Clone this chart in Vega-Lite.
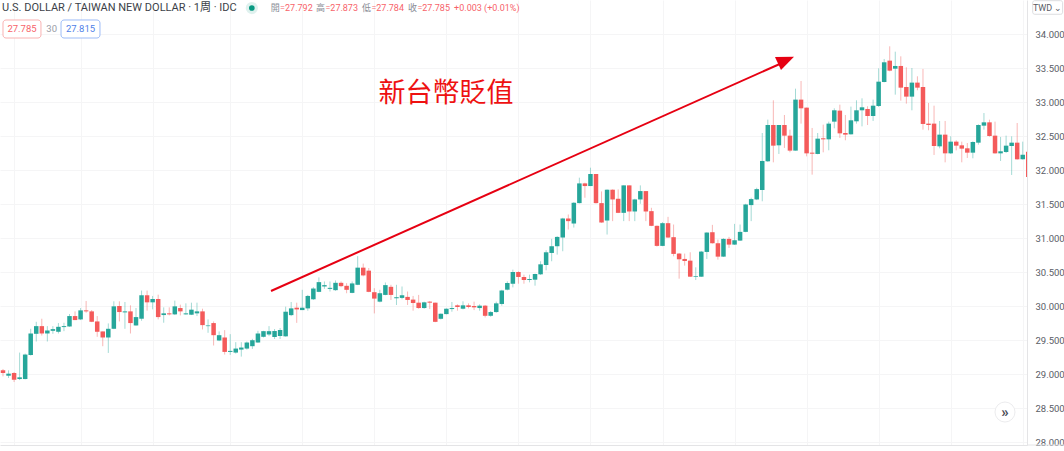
{
  "$schema": "https://vega.github.io/schema/vega-lite/v5.json",
  "autosize": {"type": "none"},
  "padding": {"left": 0, "top": 0, "right": 37, "bottom": 6},
  "width": 1027,
  "height": 445,
  "background": "#ffffff",
  "config": {
    "view": {"stroke": null},
    "font": "Roboto",
    "text": {"font": "Roboto, Noto Sans CJK TC"}
  },
  "datasets": {
    "candles": [
      {"week":0,"open":29.054,"close":29.015,"high":29.074,"low":28.965},
      {"week":1,"open":28.975,"close":29.005,"high":29.054,"low":28.941},
      {"week":2,"open":29.015,"close":28.916,"high":29.029,"low":28.882},
      {"week":3,"open":28.926,"close":28.951,"high":29.315,"low":28.911},
      {"week":4,"open":28.926,"close":29.286,"high":29.3,"low":28.921},
      {"week":5,"open":29.281,"close":29.596,"high":29.665,"low":29.271},
      {"week":6,"open":29.591,"close":29.704,"high":29.768,"low":29.478},
      {"week":7,"open":29.704,"close":29.596,"high":29.813,"low":29.566},
      {"week":8,"open":29.596,"close":29.64,"high":29.704,"low":29.478},
      {"week":9,"open":29.635,"close":29.66,"high":29.704,"low":29.591},
      {"week":10,"open":29.621,"close":29.694,"high":29.749,"low":29.596},
      {"week":11,"open":29.69,"close":29.704,"high":29.754,"low":29.63},
      {"week":12,"open":29.699,"close":29.852,"high":29.882,"low":29.694},
      {"week":13,"open":29.852,"close":29.793,"high":29.921,"low":29.793},
      {"week":14,"open":29.803,"close":29.936,"high":29.97,"low":29.793},
      {"week":15,"open":29.936,"close":29.921,"high":30.074,"low":29.901},
      {"week":16,"open":29.921,"close":29.768,"high":29.941,"low":29.763},
      {"week":17,"open":29.773,"close":29.621,"high":29.852,"low":29.547},
      {"week":18,"open":29.626,"close":29.537,"high":29.626,"low":29.409},
      {"week":19,"open":29.537,"close":29.665,"high":29.744,"low":29.31},
      {"week":20,"open":29.665,"close":29.995,"high":30.069,"low":29.66},
      {"week":21,"open":30.0,"close":29.911,"high":30.069,"low":29.773},
      {"week":22,"open":29.906,"close":29.921,"high":30.059,"low":29.665},
      {"week":23,"open":29.921,"close":29.749,"high":30.01,"low":29.596},
      {"week":24,"open":29.714,"close":29.837,"high":29.97,"low":29.709},
      {"week":25,"open":29.813,"close":30.158,"high":30.227,"low":29.783},
      {"week":26,"open":30.158,"close":30.054,"high":30.227,"low":29.931},
      {"week":27,"open":30.054,"close":30.103,"high":30.148,"low":29.951},
      {"week":28,"open":30.103,"close":29.837,"high":30.167,"low":29.803},
      {"week":29,"open":29.867,"close":29.892,"high":29.98,"low":29.754},
      {"week":30,"open":29.892,"close":29.877,"high":29.98,"low":29.862},
      {"week":31,"open":29.877,"close":29.995,"high":30.079,"low":29.867},
      {"week":32,"open":29.97,"close":29.921,"high":30.02,"low":29.862},
      {"week":33,"open":29.877,"close":29.892,"high":30.039,"low":29.872},
      {"week":34,"open":29.872,"close":29.946,"high":30.049,"low":29.867},
      {"week":35,"open":29.892,"close":29.921,"high":30.049,"low":29.852},
      {"week":36,"open":29.921,"close":29.719,"high":29.96,"low":29.655},
      {"week":37,"open":29.704,"close":29.714,"high":29.803,"low":29.606},
      {"week":38,"open":29.749,"close":29.571,"high":29.773,"low":29.419},
      {"week":39,"open":29.493,"close":29.571,"high":29.626,"low":29.483},
      {"week":40,"open":29.537,"close":29.325,"high":29.645,"low":29.286},
      {"week":41,"open":29.325,"close":29.34,"high":29.586,"low":29.281},
      {"week":42,"open":29.315,"close":29.374,"high":29.468,"low":29.3},
      {"week":43,"open":29.359,"close":29.389,"high":29.468,"low":29.256},
      {"week":44,"open":29.374,"close":29.463,"high":29.478,"low":29.359},
      {"week":45,"open":29.409,"close":29.497,"high":29.517,"low":29.369},
      {"week":46,"open":29.463,"close":29.596,"high":29.635,"low":29.458},
      {"week":47,"open":29.547,"close":29.63,"high":29.635,"low":29.537},
      {"week":48,"open":29.581,"close":29.63,"high":29.704,"low":29.557},
      {"week":49,"open":29.544,"close":29.632,"high":29.662,"low":29.515},
      {"week":50,"open":29.559,"close":29.647,"high":29.676,"low":29.515},
      {"week":51,"open":29.554,"close":29.916,"high":29.99,"low":29.549},
      {"week":52,"open":29.866,"close":29.965,"high":30.059,"low":29.851},
      {"week":53,"open":29.975,"close":29.95,"high":30.049,"low":29.752},
      {"week":54,"open":29.94,"close":29.975,"high":30.238,"low":29.94},
      {"week":55,"open":29.965,"close":30.148,"high":30.163,"low":29.931},
      {"week":56,"open":30.099,"close":30.257,"high":30.277,"low":30.089},
      {"week":57,"open":30.208,"close":30.351,"high":30.421,"low":30.203},
      {"week":58,"open":30.287,"close":30.307,"high":30.361,"low":30.252},
      {"week":59,"open":30.252,"close":30.267,"high":30.361,"low":30.213},
      {"week":60,"open":30.233,"close":30.341,"high":30.376,"low":30.223},
      {"week":61,"open":30.341,"close":30.292,"high":30.361,"low":30.277},
      {"week":62,"open":30.297,"close":30.238,"high":30.336,"low":30.188},
      {"week":63,"open":30.193,"close":30.332,"high":30.361,"low":30.188},
      {"week":64,"open":30.312,"close":30.564,"high":30.733,"low":30.307},
      {"week":65,"open":30.564,"close":30.45,"high":30.624,"low":30.436},
      {"week":66,"open":30.52,"close":30.208,"high":30.559,"low":30.203},
      {"week":67,"open":30.203,"close":30.109,"high":30.262,"low":29.891},
      {"week":68,"open":30.064,"close":30.188,"high":30.238,"low":30.054},
      {"week":69,"open":30.163,"close":30.307,"high":30.346,"low":30.158},
      {"week":70,"open":30.282,"close":30.163,"high":30.312,"low":30.089},
      {"week":71,"open":30.114,"close":30.129,"high":30.312,"low":30.015},
      {"week":72,"open":30.119,"close":30.158,"high":30.287,"low":30.099},
      {"week":73,"open":30.134,"close":30.089,"high":30.213,"low":30.015},
      {"week":74,"open":30.094,"close":30.044,"high":30.148,"low":29.931},
      {"week":75,"open":30.049,"close":29.97,"high":30.163,"low":29.96},
      {"week":76,"open":29.97,"close":30.054,"high":30.064,"low":29.96},
      {"week":77,"open":30.064,"close":30.049,"high":30.074,"low":29.955},
      {"week":78,"open":30.049,"close":29.767,"high":30.049,"low":29.762},
      {"week":79,"open":29.812,"close":29.886,"high":29.891,"low":29.802},
      {"week":80,"open":29.881,"close":29.96,"high":29.965,"low":29.876},
      {"week":81,"open":29.955,"close":29.97,"high":30.059,"low":29.916},
      {"week":82,"open":30.01,"close":29.985,"high":30.025,"low":29.931},
      {"week":83,"open":29.96,"close":30.01,"high":30.069,"low":29.95},
      {"week":84,"open":30.01,"close":29.985,"high":30.039,"low":29.965},
      {"week":85,"open":30.0,"close":29.98,"high":30.064,"low":29.94},
      {"week":86,"open":29.97,"close":30.005,"high":30.025,"low":29.931},
      {"week":87,"open":30.005,"close":29.856,"high":30.015,"low":29.832},
      {"week":88,"open":29.856,"close":29.911,"high":29.926,"low":29.841},
      {"week":89,"open":29.911,"close":30.039,"high":30.064,"low":29.901},
      {"week":90,"open":30.03,"close":30.228,"high":30.238,"low":30.005},
      {"week":91,"open":30.24,"close":30.338,"high":30.363,"low":30.23},
      {"week":92,"open":30.328,"close":30.5,"high":30.535,"low":30.274},
      {"week":93,"open":30.5,"close":30.427,"high":30.51,"low":30.328},
      {"week":94,"open":30.427,"close":30.382,"high":30.461,"low":30.328},
      {"week":95,"open":30.382,"close":30.397,"high":30.461,"low":30.348},
      {"week":96,"open":30.387,"close":30.471,"high":30.476,"low":30.299},
      {"week":97,"open":30.466,"close":30.613,"high":30.658,"low":30.456},
      {"week":98,"open":30.603,"close":30.79,"high":30.82,"low":30.525},
      {"week":99,"open":30.78,"close":30.879,"high":30.987,"low":30.658},
      {"week":100,"open":30.879,"close":31.016,"high":31.026,"low":30.756},
      {"week":101,"open":31.007,"close":31.287,"high":31.297,"low":30.805},
      {"week":102,"open":31.287,"close":31.248,"high":31.346,"low":31.125},
      {"week":103,"open":31.213,"close":31.518,"high":31.528,"low":31.154},
      {"week":104,"open":31.513,"close":31.803,"high":31.887,"low":31.508},
      {"week":105,"open":31.803,"close":31.764,"high":31.813,"low":31.592},
      {"week":106,"open":31.764,"close":31.941,"high":32.034,"low":31.764},
      {"week":107,"open":31.941,"close":31.513,"high":31.941,"low":31.508},
      {"week":108,"open":31.513,"close":31.228,"high":31.685,"low":31.223},
      {"week":109,"open":31.257,"close":31.71,"high":31.715,"low":31.051},
      {"week":110,"open":31.71,"close":31.567,"high":31.715,"low":31.248},
      {"week":111,"open":31.577,"close":31.37,"high":31.715,"low":31.366},
      {"week":112,"open":31.37,"close":31.774,"high":31.774,"low":31.248},
      {"week":113,"open":31.774,"close":31.39,"high":31.774,"low":31.248},
      {"week":114,"open":31.39,"close":31.567,"high":31.577,"low":31.248},
      {"week":115,"open":31.567,"close":31.69,"high":31.774,"low":31.503},
      {"week":116,"open":31.69,"close":31.39,"high":31.69,"low":31.248},
      {"week":117,"open":31.395,"close":31.179,"high":31.444,"low":31.174},
      {"week":118,"open":31.179,"close":30.884,"high":31.184,"low":30.874},
      {"week":119,"open":30.884,"close":31.218,"high":31.233,"low":30.879},
      {"week":120,"open":31.218,"close":31.007,"high":31.311,"low":31.002},
      {"week":121,"open":31.012,"close":30.766,"high":31.198,"low":30.731},
      {"week":122,"open":30.771,"close":30.687,"high":30.78,"low":30.402},
      {"week":123,"open":30.692,"close":30.662,"high":30.771,"low":30.594},
      {"week":124,"open":30.667,"close":30.431,"high":30.79,"low":30.427},
      {"week":125,"open":30.431,"close":30.441,"high":30.569,"low":30.382},
      {"week":126,"open":30.431,"close":30.8,"high":30.81,"low":30.427},
      {"week":127,"open":30.795,"close":31.08,"high":31.085,"low":30.692},
      {"week":128,"open":31.085,"close":30.923,"high":31.193,"low":30.918},
      {"week":129,"open":30.923,"close":30.726,"high":30.977,"low":30.682},
      {"week":130,"open":30.726,"close":30.987,"high":30.997,"low":30.722},
      {"week":131,"open":30.987,"close":30.903,"high":31.016,"low":30.854},
      {"week":132,"open":30.903,"close":30.967,"high":31.208,"low":30.898},
      {"week":133,"open":30.962,"close":31.09,"high":31.198,"low":30.957},
      {"week":134,"open":31.09,"close":31.493,"high":31.503,"low":31.085},
      {"week":135,"open":31.484,"close":31.572,"high":31.592,"low":31.248},
      {"week":136,"open":31.567,"close":31.719,"high":31.739,"low":31.557},
      {"week":137,"open":31.706,"close":32.133,"high":32.544,"low":31.54},
      {"week":138,"open":32.128,"close":32.662,"high":32.741,"low":32.118},
      {"week":139,"open":32.662,"close":32.358,"high":33.025,"low":32.113},
      {"week":140,"open":32.363,"close":32.662,"high":32.662,"low":32.236},
      {"week":141,"open":32.662,"close":32.505,"high":32.809,"low":32.324},
      {"week":142,"open":32.505,"close":32.285,"high":32.593,"low":32.26},
      {"week":143,"open":32.285,"close":33.035,"high":33.196,"low":32.285},
      {"week":144,"open":33.035,"close":32.907,"high":33.309,"low":32.682},
      {"week":145,"open":32.917,"close":32.245,"high":32.917,"low":32.201},
      {"week":146,"open":32.255,"close":32.24,"high":32.618,"low":31.932},
      {"week":147,"open":32.236,"close":32.461,"high":32.544,"low":32.231},
      {"week":148,"open":32.466,"close":32.451,"high":32.667,"low":32.26},
      {"week":149,"open":32.451,"close":32.682,"high":32.711,"low":32.29},
      {"week":150,"open":32.711,"close":32.878,"high":32.907,"low":32.613},
      {"week":151,"open":32.873,"close":32.539,"high":32.961,"low":32.471},
      {"week":152,"open":32.544,"close":32.52,"high":32.809,"low":32.437},
      {"week":153,"open":32.525,"close":32.731,"high":32.932,"low":32.52},
      {"week":154,"open":32.716,"close":32.878,"high":33.025,"low":32.682},
      {"week":155,"open":32.878,"close":32.922,"high":33.054,"low":32.642},
      {"week":156,"open":32.897,"close":32.794,"high":32.937,"low":32.662},
      {"week":157,"open":32.794,"close":32.946,"high":33.035,"low":32.721},
      {"week":158,"open":32.941,"close":33.299,"high":33.495,"low":32.927},
      {"week":159,"open":33.294,"close":33.584,"high":33.633,"low":33.289},
      {"week":160,"open":33.608,"close":33.461,"high":33.819,"low":33.451},
      {"week":161,"open":33.49,"close":33.53,"high":33.74,"low":33.108},
      {"week":162,"open":33.53,"close":33.211,"high":33.672,"low":33.02},
      {"week":163,"open":33.221,"close":33.079,"high":33.51,"low":32.976},
      {"week":164,"open":33.079,"close":33.285,"high":33.5,"low":32.878},
      {"week":165,"open":33.285,"close":33.211,"high":33.378,"low":33.172},
      {"week":166,"open":33.221,"close":32.677,"high":33.486,"low":32.593},
      {"week":167,"open":32.682,"close":32.662,"high":32.986,"low":32.584},
      {"week":168,"open":32.682,"close":32.353,"high":32.946,"low":32.221},
      {"week":169,"open":32.348,"close":32.52,"high":32.721,"low":32.319},
      {"week":170,"open":32.52,"close":32.245,"high":32.721,"low":32.113},
      {"week":171,"open":32.245,"close":32.417,"high":32.495,"low":32.236},
      {"week":172,"open":32.417,"close":32.358,"high":32.437,"low":32.289},
      {"week":173,"open":32.363,"close":32.314,"high":32.417,"low":32.113},
      {"week":174,"open":32.319,"close":32.255,"high":32.397,"low":32.177},
      {"week":175,"open":32.255,"close":32.412,"high":32.422,"low":32.172},
      {"week":176,"open":32.402,"close":32.662,"high":32.672,"low":32.373},
      {"week":177,"open":32.652,"close":32.701,"high":32.838,"low":32.593},
      {"week":178,"open":32.701,"close":32.5,"high":32.74,"low":32.49},
      {"week":179,"open":32.505,"close":32.245,"high":32.711,"low":32.24},
      {"week":180,"open":32.245,"close":32.275,"high":32.486,"low":32.133},
      {"week":181,"open":32.265,"close":32.358,"high":32.505,"low":32.25},
      {"week":182,"open":32.353,"close":32.402,"high":32.495,"low":31.927},
      {"week":183,"open":32.402,"close":32.157,"high":32.691,"low":32.152},
      {"week":184,"open":32.157,"close":32.226,"high":32.417,"low":32.152},
      {"week":185,"open":32.27,"close":31.897,"high":32.27,"low":31.897}
    ]
  },
  "layer": [
    {
      "data": {"name": "candles"},
      "mark": {"type": "rule", "strokeWidth": 1, "opacity": 0.42, "clip": true},
      "encoding": {
        "x": {
          "field": "week",
          "type": "quantitative",
          "title": null,
          "scale": {"domain": [-0.541, 184.77], "nice": false, "zero": false, "padding": 0},
          "axis": {
            "values": [2, 14, 27, 41, 54, 67, 80, 93, 106, 119, 132, 145, 158, 171, 184],
            "tickCount": 30,
            "labels": false,
            "ticks": false,
            "domainColor": "#e4e4e6",
            "gridColor": "#f5f5f6",
            "title": null
          }
        },
        "y": {
          "field": "high",
          "type": "quantitative",
          "title": null,
          "scale": {"domain": [27.956, 34.5], "nice": false, "zero": false},
          "axis": {
            "orient": "right",
            "values": [28, 28.5, 29, 29.5, 30, 30.5, 31, 31.5, 32, 32.5, 33, 33.5, 34],
            "tickCount": 30,
            "format": ".3f",
            "ticks": false,
            "labelOverlap": false,
            "labelColor": "#5a5d66",
            "labelFont": "Roboto",
            "labelFontSize": 9.5,
            "labelPadding": 8,
            "domainColor": "#e4e4e6",
            "gridColor": "#f5f5f6",
            "title": null
          }
        },
        "y2": {"field": "low"},
        "color": {"condition": {"test": "datum.close >= datum.open", "value": "#26a69a"}, "value": "#ef5350"}
      }
    },
    {
      "data": {"name": "candles"},
      "mark": {"type": "bar", "size": 4.5, "orient": "vertical", "clip": true},
      "encoding": {
        "x": {"field": "week", "type": "quantitative"},
        "y": {"field": "open", "type": "quantitative"},
        "y2": {"field": "close"},
        "color": {"condition": {"test": "datum.close >= datum.open", "value": "#26a69a"}, "value": "#f45a5a"}
      }
    },
    {
      "data": {"values": [{"week": 184.77, "week2": 193, "price": 27.956}]},
      "mark": {"type": "rule", "color": "#e4e4e6", "strokeWidth": 1},
      "encoding": {
        "x": {"field": "week", "type": "quantitative"},
        "x2": {"field": "week2"},
        "y": {"field": "price", "type": "quantitative"}
      }
    },
    {
      "data": {"values": [{"week": 48.36, "price": 30.221}, {"week": 140.56, "price": 33.574}]},
      "mark": {"type": "line", "color": "#e60012", "strokeWidth": 2},
      "encoding": {
        "x": {"field": "week", "type": "quantitative"},
        "y": {"field": "price", "type": "quantitative"}
      }
    },
    {
      "data": {"values": [{"week": 140.74, "price": 33.603}]},
      "mark": {"type": "point", "filled": true, "opacity": 1, "color": "#e60012", "size": 400, "shape": "M-0.8,-0.4L1.1,-0.43L-0.2,0.9Z"},
      "encoding": {
        "x": {"field": "week", "type": "quantitative"},
        "y": {"field": "price", "type": "quantitative"}
      }
    },
    {
      "data": {"values": [{"week": 79.94, "price": 33.117, "label": "新台幣貶值"}]},
      "mark": {"type": "text", "color": "#ee1111", "fontSize": 27, "font": "Noto Sans CJK TC", "align": "center", "baseline": "middle"},
      "encoding": {
        "x": {"field": "week", "type": "quantitative"},
        "y": {"field": "price", "type": "quantitative"},
        "text": {"field": "label"}
      }
    },
    {
      "data": {"values": [{"week": -0.18, "price": 34.382, "label": "U.S. DOLLAR / TAIWAN NEW DOLLAR · 1周 · IDC"}]},
      "mark": {"type": "text", "color": "#3c3f48", "fontSize": 11, "align": "left", "baseline": "middle"},
      "encoding": {
        "x": {"field": "week", "type": "quantitative"},
        "y": {"field": "price", "type": "quantitative"},
        "text": {"field": "label"}
      }
    },
    {
      "data": {"values": [{"week": 44.9, "price": 34.382}]},
      "mark": {"type": "point", "filled": true, "opacity": 1, "color": "#dff1ee", "size": 150, "shape": "circle"},
      "encoding": {
        "x": {"field": "week", "type": "quantitative"},
        "y": {"field": "price", "type": "quantitative"}
      }
    },
    {
      "data": {"values": [{"week": 44.9, "price": 34.382}]},
      "mark": {"type": "point", "filled": true, "opacity": 1, "color": "#089981", "size": 32, "shape": "circle"},
      "encoding": {
        "x": {"field": "week", "type": "quantitative"},
        "y": {"field": "price", "type": "quantitative"}
      }
    },
    {
      "data": {"values": [
        {"week": 48.31, "price": 34.382, "label": "開"},
        {"week": 56.48, "price": 34.382, "label": "高"},
        {"week": 64.78, "price": 34.382, "label": "低"},
        {"week": 73.08, "price": 34.382, "label": "收"}
      ]},
      "mark": {"type": "text", "color": "#8a8d96", "fontSize": 9, "align": "left", "baseline": "middle"},
      "encoding": {
        "x": {"field": "week", "type": "quantitative"},
        "y": {"field": "price", "type": "quantitative"},
        "text": {"field": "label"}
      }
    },
    {
      "data": {"values": [
        {"week": 50.0, "price": 34.382, "label": "=27.792"},
        {"week": 58.17, "price": 34.382, "label": "=27.873"},
        {"week": 66.47, "price": 34.382, "label": "=27.784"},
        {"week": 74.77, "price": 34.382, "label": "=27.785"},
        {"week": 81.4, "price": 34.382, "label": "+0.003 (+0.01%)"}
      ]},
      "mark": {"type": "text", "color": "#f7636a", "fontSize": 9, "align": "left", "baseline": "middle"},
      "encoding": {
        "x": {"field": "week", "type": "quantitative"},
        "y": {"field": "price", "type": "quantitative"},
        "text": {"field": "label"}
      }
    },
    {
      "data": {"values": [{"week": 0.0, "week2": 6.85, "top": 34.206, "bottom": 33.941}]},
      "mark": {"type": "rect", "fill": "#ffffff", "stroke": "#f9b2b2", "strokeWidth": 1, "cornerRadius": 3},
      "encoding": {
        "x": {"field": "week", "type": "quantitative"},
        "x2": {"field": "week2"},
        "y": {"field": "top", "type": "quantitative"},
        "y2": {"field": "bottom"}
      }
    },
    {
      "data": {"values": [{"week": 10.47, "week2": 17.5, "top": 34.206, "bottom": 33.941}]},
      "mark": {"type": "rect", "fill": "#ffffff", "stroke": "#9dbcf7", "strokeWidth": 1, "cornerRadius": 3},
      "encoding": {
        "x": {"field": "week", "type": "quantitative"},
        "x2": {"field": "week2"},
        "y": {"field": "top", "type": "quantitative"},
        "y2": {"field": "bottom"}
      }
    },
    {
      "data": {"values": [{"week": 3.43, "price": 34.074, "label": "27.785"}]},
      "mark": {"type": "text", "color": "#f7636a", "fontSize": 9.5, "align": "center", "baseline": "middle"},
      "encoding": {
        "x": {"field": "week", "type": "quantitative"},
        "y": {"field": "price", "type": "quantitative"},
        "text": {"field": "label"}
      }
    },
    {
      "data": {"values": [{"week": 8.79, "price": 34.074, "label": "30"}]},
      "mark": {"type": "text", "color": "#9a9da6", "fontSize": 9.5, "align": "center", "baseline": "middle"},
      "encoding": {
        "x": {"field": "week", "type": "quantitative"},
        "y": {"field": "price", "type": "quantitative"},
        "text": {"field": "label"}
      }
    },
    {
      "data": {"values": [{"week": 13.98, "price": 34.074, "label": "27.815"}]},
      "mark": {"type": "text", "color": "#4f7fe8", "fontSize": 9.5, "align": "center", "baseline": "middle"},
      "encoding": {
        "x": {"field": "week", "type": "quantitative"},
        "y": {"field": "price", "type": "quantitative"},
        "text": {"field": "label"}
      }
    },
    {
      "data": {"values": [{"week": 185.8, "week2": 191.2, "top": 34.49, "bottom": 34.29}]},
      "mark": {"type": "rect", "fill": "#ffffff", "stroke": "#dcdde0", "strokeWidth": 1, "cornerRadius": 2},
      "encoding": {
        "x": {"field": "week", "type": "quantitative"},
        "x2": {"field": "week2"},
        "y": {"field": "top", "type": "quantitative"},
        "y2": {"field": "bottom"}
      }
    },
    {
      "data": {"values": [{"week": 188.5, "price": 34.382, "label": "TWD ⌄"}]},
      "mark": {"type": "text", "color": "#5a5d66", "fontSize": 9, "align": "center", "baseline": "middle"},
      "encoding": {
        "x": {"field": "week", "type": "quantitative"},
        "y": {"field": "price", "type": "quantitative"},
        "text": {"field": "label"}
      }
    },
    {
      "data": {"values": [{"week": 180.8, "price": 28.441}]},
      "mark": {"type": "point", "filled": true, "opacity": 1, "fill": "#ffffff", "stroke": "#ececee", "strokeWidth": 1, "size": 400, "shape": "circle"},
      "encoding": {
        "x": {"field": "week", "type": "quantitative"},
        "y": {"field": "price", "type": "quantitative"}
      }
    },
    {
      "data": {"values": [{"week": 180.8, "price": 28.441, "label": "»"}]},
      "mark": {"type": "text", "color": "#4a4d56", "fontSize": 15, "fontWeight": "bold", "align": "center", "baseline": "middle"},
      "encoding": {
        "x": {"field": "week", "type": "quantitative"},
        "y": {"field": "price", "type": "quantitative"},
        "text": {"field": "label"}
      }
    }
  ]
}
